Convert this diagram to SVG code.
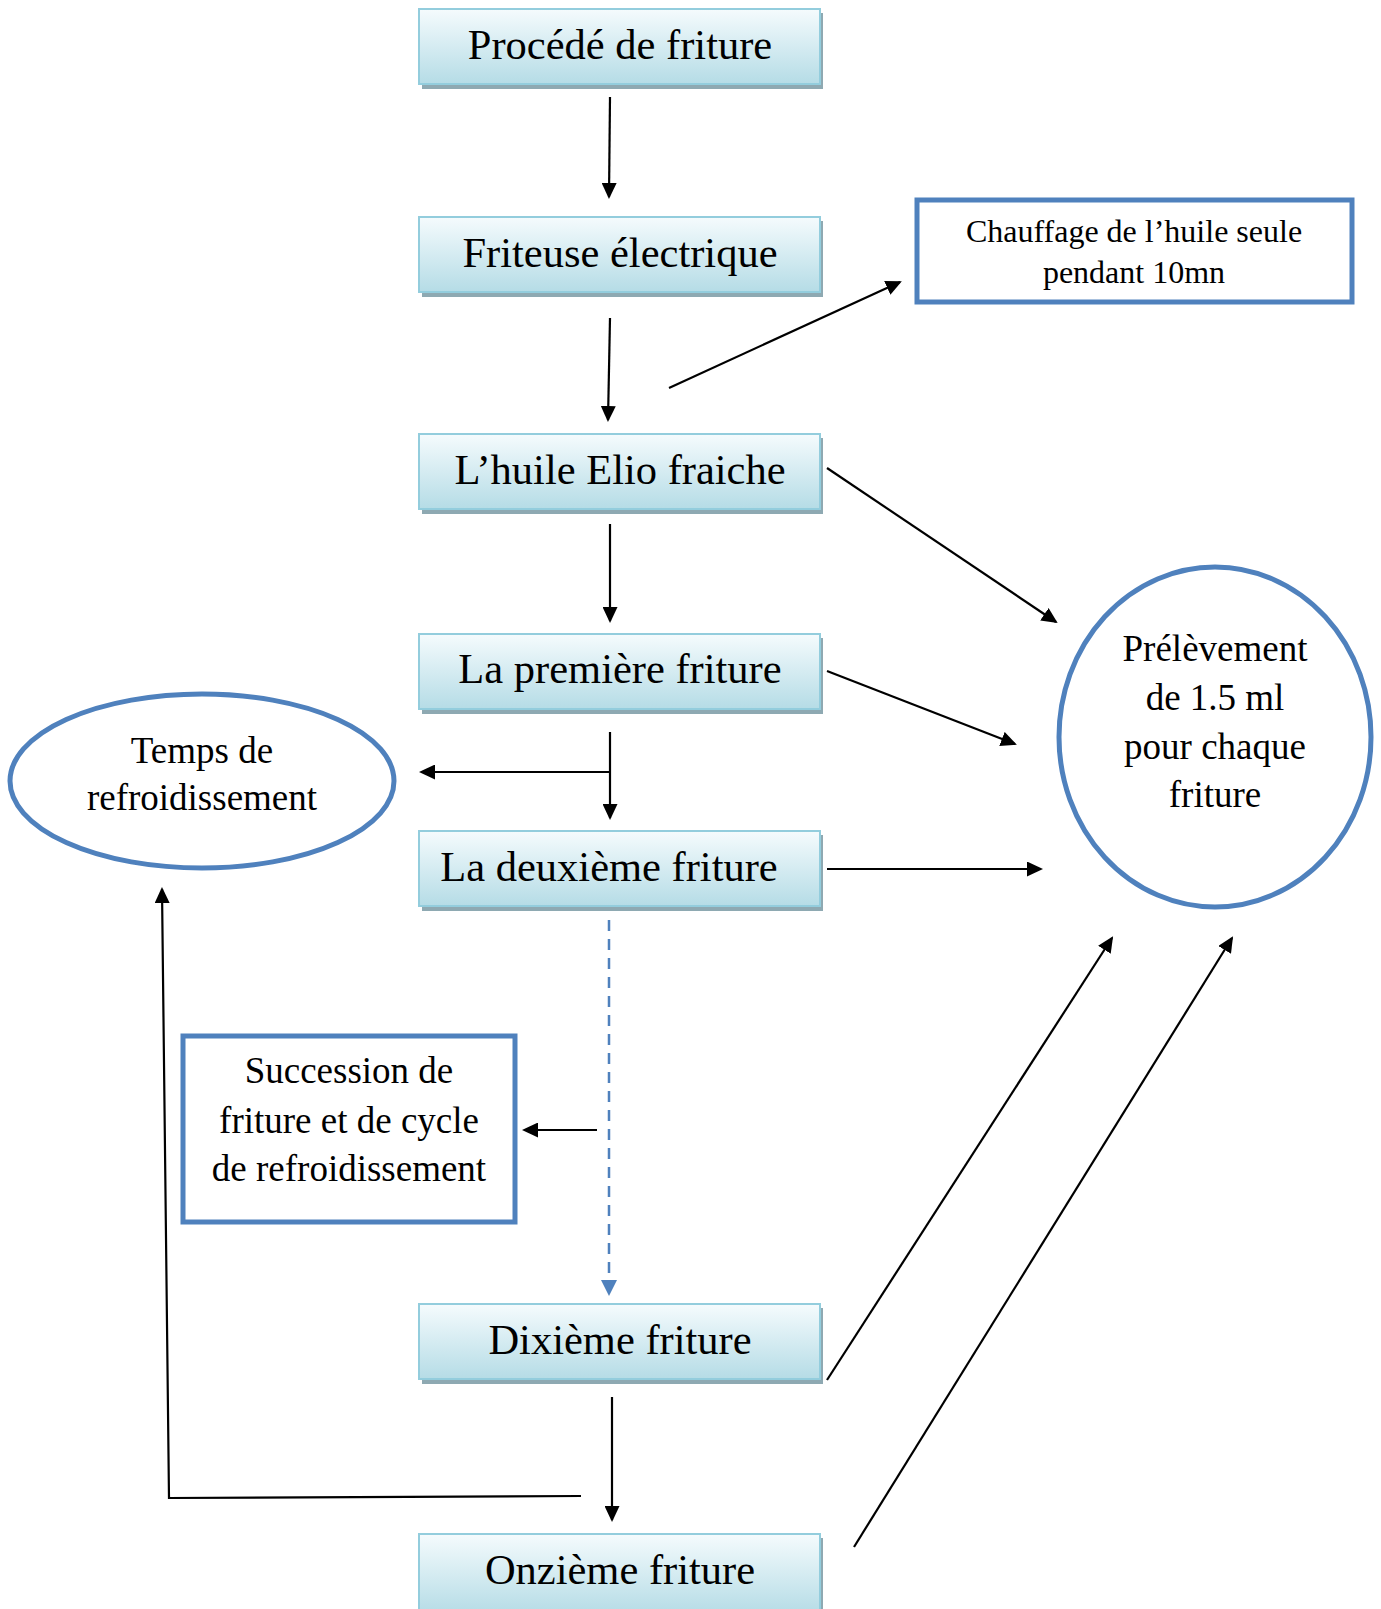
<svg xmlns="http://www.w3.org/2000/svg" width="1381" height="1609" viewBox="0 0 1381 1609">
  <style>
    text { font-family: "Liberation Serif", "Times New Roman", serif; fill: #000; text-anchor: middle; }
    .step text { font-size: 42.5px; }
    .step .body { fill: url(#stepFill); stroke: #93cddd; stroke-width: 2; }
    .step .shadow { fill: #8ea9b2; }
    .note { fill: #fff; stroke: #4f81bd; stroke-width: 5; }
    .big { font-size: 37px; }
    .small { font-size: 32px; }
    .link { fill: none; stroke: #000; stroke-width: 2.2; }
    .arrow { marker-end: url(#head); }
    .dash { fill: none; stroke: #4f81bd; stroke-width: 2.5; stroke-dasharray: 11 8; marker-end: url(#headBlue); }
  </style>
  <defs>
    <linearGradient id="stepFill" x1="0" y1="0" x2="0" y2="1">
      <stop offset="0" stop-color="#f5fbfd"/>
      <stop offset="1" stop-color="#b5dce6"/>
    </linearGradient>
    <marker id="head" markerUnits="userSpaceOnUse" markerWidth="17" markerHeight="15" refX="14" refY="7.5" orient="auto">
      <path d="M0,0 L16,7.5 L0,15 z" fill="#000"/>
    </marker>
    <marker id="headBlue" markerUnits="userSpaceOnUse" markerWidth="17" markerHeight="16" refX="14" refY="8" orient="auto">
      <path d="M0,0 L16,8 L0,16 z" fill="#4f81bd"/>
    </marker>
  </defs>

  <!-- process steps -->
  <g id="procede" class="step">
    <rect class="shadow" x="422" y="13" width="401" height="76"/>
    <rect class="body" x="419" y="9" width="401" height="75"/>
    <text x="620" y="59">Procédé de friture</text>
  </g>
  <g id="friteuse" class="step">
    <rect class="shadow" x="422" y="221" width="401" height="76"/>
    <rect class="body" x="419" y="217" width="401" height="75"/>
    <text x="620" y="267">Friteuse électrique</text>
  </g>
  <g id="huile" class="step">
    <rect class="shadow" x="422" y="438" width="401" height="76"/>
    <rect class="body" x="419" y="434" width="401" height="75"/>
    <text x="620" y="484">L’huile Elio fraiche</text>
  </g>
  <g id="premiere" class="step">
    <rect class="shadow" x="422" y="638" width="401" height="76"/>
    <rect class="body" x="419" y="634" width="401" height="75"/>
    <text x="620" y="683">La première friture</text>
  </g>
  <g id="deuxieme" class="step">
    <rect class="shadow" x="422" y="835" width="401" height="76"/>
    <rect class="body" x="419" y="831" width="401" height="75"/>
    <text x="609" y="881">La deuxième friture</text>
  </g>
  <g id="dixieme" class="step">
    <rect class="shadow" x="422" y="1308" width="401" height="76"/>
    <rect class="body" x="419" y="1304" width="401" height="75"/>
    <text x="620" y="1354">Dixième friture</text>
  </g>
  <g id="onzieme" class="step">
    <rect class="shadow" x="422" y="1538" width="401" height="80"/>
    <rect class="body" x="419" y="1534" width="401" height="80"/>
    <text x="620" y="1584">Onzième friture</text>
  </g>

  <!-- side notes -->
  <g id="chauffage">
    <rect class="note" x="917" y="200" width="435" height="102"/>
    <text class="small" x="1134" y="242">Chauffage de l’huile seule</text>
    <text class="small" x="1134" y="283">pendant 10mn</text>
  </g>
  <g id="prelevement">
    <ellipse class="note" cx="1215" cy="737" rx="156" ry="170"/>
    <text class="big" x="1215" y="661">Prélèvement</text>
    <text class="big" x="1215" y="710">de 1.5 ml</text>
    <text class="big" x="1215" y="759">pour chaque</text>
    <text class="big" x="1215" y="807">friture</text>
  </g>
  <g id="refroidissement">
    <ellipse class="note" cx="202" cy="781" rx="192" ry="87"/>
    <text class="big" x="202" y="763">Temps de</text>
    <text class="big" x="202" y="810">refroidissement</text>
  </g>
  <g id="succession">
    <rect class="note" x="183" y="1036" width="332" height="186"/>
    <text class="big" x="349" y="1083">Succession de</text>
    <text class="big" x="349" y="1133">friture et de cycle</text>
    <text class="big" x="349" y="1181">de refroidissement</text>
  </g>

  <!-- connectors -->
  <g id="connectors">
    <line class="link arrow" x1="610" y1="97" x2="609" y2="197"/>
    <line class="link arrow" x1="610" y1="318" x2="608" y2="420"/>
    <line class="link arrow" x1="669" y1="388" x2="900" y2="282"/>
    <line class="link arrow" x1="610" y1="524" x2="610" y2="621"/>
    <line class="link arrow" x1="827" y1="468" x2="1056" y2="622"/>
    <line class="link arrow" x1="827" y1="671" x2="1015" y2="744"/>
    <line class="link arrow" x1="610" y1="732" x2="610" y2="818"/>
    <line class="link arrow" x1="610" y1="772" x2="421" y2="772"/>
    <line class="link arrow" x1="827" y1="869" x2="1041" y2="869"/>
    <line class="dash" x1="609" y1="920" x2="609" y2="1294"/>
    <line class="link arrow" x1="597" y1="1130" x2="524" y2="1130"/>
    <line class="link arrow" x1="827" y1="1380" x2="1112" y2="938"/>
    <line class="link arrow" x1="612" y1="1397" x2="612" y2="1520"/>
    <polyline class="link arrow" points="581,1496 169,1498 162,889"/>
    <line class="link arrow" x1="854" y1="1547" x2="1232" y2="938"/>
  </g>
</svg>
